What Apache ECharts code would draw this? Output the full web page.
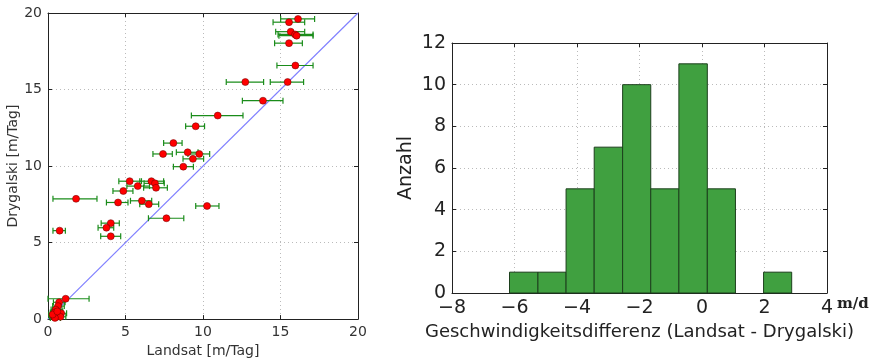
<!DOCTYPE html>
<html>
<head>
<meta charset="utf-8">
<script src="https://cdn.jsdelivr.net/npm/echarts@6/dist/echarts.min.js"></script>
<style>
  html, body { margin: 0; padding: 0; background: #fff; }
  #chart { width: 880px; height: 363px; }
</style>
</head>
<body>
<div id="chart"></div>
<script>
// Landsat vs Drygalski Geschwindigkeiten (m/Tag), mit x-Fehlerbalken
var landsat   = [16.13,15.55,15.66,15.94,16.04,15.55,15.96,12.73,15.46,13.87,10.95,9.53,8.09,7.42,9.01,9.76,9.35,8.73,
                 5.27,6.67,6.90,5.79,6.97,4.86,1.81,4.52,6.06,6.50,7.64,10.26,4.05,3.77,4.05,0.75,
                 1.14,0.72,0.65,0.50,0.85,0.43,0.55,0.37,0.80,0.45,0.30,0.60];
var drygalski = [19.61,19.40,18.78,18.60,18.52,18.03,16.57,15.49,15.49,14.27,13.30,12.60,11.50,10.79,10.90,10.79,10.47,9.96,
                 9.01,9.01,8.87,8.69,8.58,8.37,7.86,7.62,7.73,7.51,6.59,7.39,6.27,5.97,5.41,5.78,
                 1.33,1.10,0.85,0.62,0.38,0.43,0.28,0.19,0.15,0.08,0.30,0.50];
var xerrLow   = [15.01,14.52,14.69,14.84,14.90,14.62,14.77,11.50,14.34,12.54,9.25,8.88,7.46,6.77,8.28,9.03,8.71,8.09,
                 4.57,5.92,6.20,5.09,6.17,4.19,0.32,3.77,5.32,5.92,6.48,9.53,3.43,3.23,3.40,0.32,
                 0.00,0.35,0.30,0.20,0.50,0.15,0.20,0.10,0.45,0.15,0.05,0.25];
var xerrHigh  = [17.20,16.56,16.56,17.10,17.10,16.41,17.10,13.91,16.49,15.16,12.58,10.10,8.65,8.02,9.68,10.43,10.04,9.38,
                 6.03,7.46,7.50,6.55,7.70,5.48,3.16,5.16,6.69,7.14,8.76,11.03,4.60,4.24,4.69,1.12,
                 2.65,1.10,1.05,0.90,1.20,0.75,0.90,0.70,1.15,0.80,0.60,0.95];
var diagonal  = [0, 20];

// Histogramm der Differenzen (Landsat - Drygalski)
var binEdges  = [-6.16,-5.25,-4.35,-3.45,-2.54,-1.64,-0.74,0.17,1.07,1.97,2.87];
var binCounts = [1,1,5,7,10,5,11,5,0,1];

var leftTicks  = [0, 5, 10, 15, 20];
var histXTicks = [-8, -6, -4, -2, 0, 2, 4];
var histYTicks = [0, 2, 4, 6, 8, 10, 12];

var pointData = [], errData = [], histData = [];
for (var i = 0; i < landsat.length; i++) {
  pointData.push([landsat[i], drygalski[i]]);
  errData.push([xerrLow[i], xerrHigh[i], drygalski[i]]);
}
for (var j = 0; j < binCounts.length; j++) {
  histData.push([binEdges[j], binEdges[j + 1], binCounts[j]]);
}

var font = 'DejaVu Sans';
var myChart = echarts.init(document.getElementById('chart'), null, { renderer: 'canvas' });

function minus(v) { return String(v).replace('-', '\u2212'); }

function frameAxis(opt) {
  var base = {
    axisLine: { show: true, onZero: false, lineStyle: { color: '#222', width: 1 } },
    axisTick: { show: true, inside: true, length: 4, lineStyle: { color: '#222' } },
    axisLabel: { show: false },
    splitLine: { show: false }
  };
  return Object.assign(base, opt);
}

var gridLine = { show: true, lineStyle: { color: '#bbb', type: [1, 3], width: 1 } };

option = {
  backgroundColor: '#fff',
  animation: false,
  textStyle: { fontFamily: font },
  grid: [
    { left: 48, top: 13, width: 310, height: 311 },
    { left: 452, top: 43, width: 375, height: 250 }
  ],
  xAxis: [
    frameAxis({
      gridIndex: 0, type: 'value', position: 'bottom', min: leftTicks[0], max: leftTicks[4], interval: 5,
      axisLabel: { show: true, fontSize: 14, color: '#333', margin: 6, fontFamily: font },
      splitLine: gridLine,
      name: 'Landsat [m/Tag]', nameLocation: 'middle', nameGap: 22,
      nameTextStyle: { fontSize: 14, color: '#333', fontFamily: font }
    }),
    frameAxis({ gridIndex: 0, type: 'value', position: 'top', min: 0, max: 20, interval: 5 }),
    frameAxis({
      gridIndex: 1, type: 'value', position: 'bottom', min: histXTicks[0], max: histXTicks[6], interval: 2,
      axisLabel: { show: true, fontSize: 19, color: '#222', margin: 6, fontFamily: font, formatter: minus },
      splitLine: gridLine,
      name: 'Geschwindigkeitsdifferenz (Landsat - Drygalski)', nameLocation: 'middle', nameGap: 29,
      nameTextStyle: { fontSize: 18, color: '#222', fontFamily: font }
    }),
    frameAxis({ gridIndex: 1, type: 'value', position: 'top', min: -8, max: 4, interval: 2 })
  ],
  yAxis: [
    frameAxis({
      gridIndex: 0, type: 'value', position: 'left', min: leftTicks[0], max: leftTicks[4], interval: 5,
      axisLabel: { show: true, fontSize: 14, color: '#333', margin: 6, fontFamily: font },
      splitLine: gridLine,
      name: 'Drygalski [m/Tag]', nameLocation: 'middle', nameGap: 26,
      nameTextStyle: { fontSize: 14, color: '#333', fontFamily: font }
    }),
    frameAxis({ gridIndex: 0, type: 'value', position: 'right', min: 0, max: 20, interval: 5 }),
    frameAxis({
      gridIndex: 1, type: 'value', position: 'left', min: histYTicks[0], max: histYTicks[6], interval: 2,
      axisLabel: { show: true, fontSize: 19, color: '#222', margin: 6, fontFamily: font },
      splitLine: gridLine,
      name: 'Anzahl', nameLocation: 'middle', nameGap: 36,
      nameTextStyle: { fontSize: 19, color: '#222', fontFamily: font }
    }),
    frameAxis({ gridIndex: 1, type: 'value', position: 'right', min: 0, max: 12, interval: 2 })
  ],
  graphic: [
    { type: 'text', left: 837, top: 297,
      style: { text: 'm/d', font: 'bold 15px "DejaVu Serif"', fill: '#222' } }
  ],
  series: [
    {
      // 1:1 Linie
      type: 'line', xAxisIndex: 0, yAxisIndex: 0, symbol: 'none',
      data: [[diagonal[0], diagonal[0]], [diagonal[1], diagonal[1]]],
      lineStyle: { color: '#8080ff', width: 1.2 }, z: 2
    },
    {
      // Fehlerbalken
      type: 'custom', xAxisIndex: 0, yAxisIndex: 0,
      data: errData,
      encode: { x: [0, 1], y: 2 },
      renderItem: function (params, api) {
        var a = api.coord([api.value(0), api.value(2)]);
        var b = api.coord([api.value(1), api.value(2)]);
        var st = { stroke: '#1a8c1a', lineWidth: 1.2 };
        return {
          type: 'group',
          children: [
            { type: 'line', shape: { x1: a[0], y1: a[1], x2: b[0], y2: b[1] }, style: st },
            { type: 'line', shape: { x1: a[0], y1: a[1] - 3, x2: a[0], y2: a[1] + 3 }, style: st },
            { type: 'line', shape: { x1: b[0], y1: b[1] - 3, x2: b[0], y2: b[1] + 3 }, style: st }
          ]
        };
      },
      z: 3
    },
    {
      type: 'scatter', xAxisIndex: 0, yAxisIndex: 0,
      data: pointData, symbolSize: 7,
      itemStyle: { color: '#ff0000', borderColor: '#600', borderWidth: 0.5, opacity: 1 },
      z: 4
    },
    {
      // Histogramm
      type: 'custom', xAxisIndex: 2, yAxisIndex: 2,
      data: histData,
      encode: { x: [0, 1], y: 2 },
      renderItem: function (params, api) {
        if (api.value(2) <= 0) return null;
        var p0 = api.coord([api.value(0), api.value(2)]);
        var p1 = api.coord([api.value(1), 0]);
        return {
          type: 'rect',
          shape: { x: p0[0], y: p0[1], width: p1[0] - p0[0], height: p1[1] - p0[1] },
          style: { fill: '#40a040', stroke: '#1c3f1c', lineWidth: 1 }
        };
      },
      z: 3
    }
  ]
};

myChart.setOption(option);
</script>
</body>
</html>
